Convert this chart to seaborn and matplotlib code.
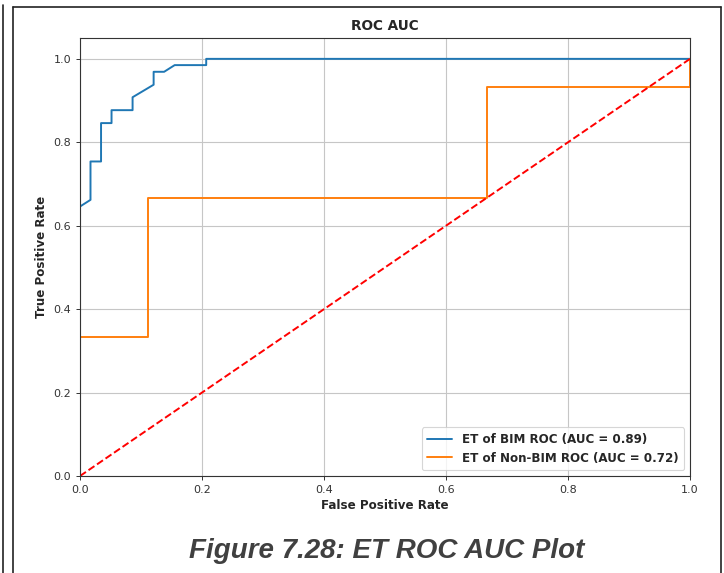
import matplotlib
matplotlib.use("Agg")
import matplotlib.pyplot as plt
from matplotlib.lines import Line2D
import numpy as np
import pandas as pd
import seaborn as sns

# ROC points (false positive rate, true positive rate)
bim_fpr = [0.0, 0.0, 0.0172, 0.0172, 0.0345, 0.0345, 0.0517, 0.0517, 0.0862, 0.0862,
           0.1207, 0.1207, 0.1379, 0.1552, 0.2069, 0.2069, 1.0]
bim_tpr = [0.0, 0.646, 0.662, 0.754, 0.754, 0.846, 0.846, 0.877, 0.877, 0.908,
           0.938, 0.969, 0.969, 0.985, 0.985, 1.0, 1.0]

nonbim_fpr = [0.0, 0.0, 0.111, 0.111, 0.667, 0.667, 1.0, 1.0]
nonbim_tpr = [0.0, 0.333, 0.333, 0.667, 0.667, 0.933, 0.933, 1.0]

series_labels = ["ET of BIM ROC (AUC = 0.89)", "ET of Non-BIM ROC (AUC = 0.72)"]
chance_line = [0.0, 1.0]

title_text = "ROC AUC"
x_label = "False Positive Rate"
y_label = "True Positive Rate"
caption_text = "Figure 7.28: ET ROC AUC Plot"

sns.set_style("white")
plt.rcParams["font.family"] = ["DejaVu Sans"]

W, H = 724, 573
fig = plt.figure(figsize=(W / 100, H / 100), dpi=100)
fig.patch.set_facecolor("white")

ax = fig.add_axes([80 / W, 1 - 476 / H, 610 / W, 438 / H])

bim_df = pd.DataFrame({"fpr": bim_fpr, "tpr": bim_tpr})
nonbim_df = pd.DataFrame({"fpr": nonbim_fpr, "tpr": nonbim_tpr})

sns.lineplot(data=bim_df, x="fpr", y="tpr", sort=False, estimator=None,
             color="#1f77b4", linewidth=1.4, label=series_labels[0], ax=ax)
sns.lineplot(data=nonbim_df, x="fpr", y="tpr", sort=False, estimator=None,
             color="#ff7f0e", linewidth=1.4, label=series_labels[1], ax=ax)
ax.plot(chance_line, chance_line, color="red", linestyle="--", linewidth=1.4)

ax.set_xlim(0.0, 1.0)
ax.set_ylim(0.0, 1.05)
ax.set_xticks(np.arange(0, 1.01, 0.2))
ax.set_yticks(np.arange(0, 1.01, 0.2))
ax.grid(True, color="#c6c6c6", linewidth=0.8)
ax.tick_params(axis="both", labelsize=8, length=3, width=0.7,
               colors="#333333", direction="out", bottom=True, left=True)
for s in ax.spines.values():
    s.set_linewidth(0.8)
    s.set_color("#333333")

ax.set_title(title_text, fontsize=9.8, fontweight="bold", pad=6)
ax.set_xlabel(x_label, fontsize=8.6, fontweight="bold", labelpad=3)
ax.set_ylabel(y_label, fontsize=8.6, fontweight="bold", labelpad=4)

leg = ax.legend(loc="lower right", prop={"size": 8.6, "weight": "bold"},
                frameon=True, fancybox=True, framealpha=0.8,
                borderpad=0.45, handlelength=2.1, borderaxespad=0.5)
leg.get_frame().set_linewidth(0.8)
leg.get_frame().set_edgecolor("#cccccc")

# Caption under the plot
fig.text(386.5 / W, 1 - 551 / H, caption_text, ha="center", va="center",
         fontsize=20, fontweight="bold", fontstyle="italic",
         family=["Liberation Sans", "DejaVu Sans"], color="#404040")

# Page frame lines
def fig_line(xs, ys, lw=1.2):
    fig.add_artist(Line2D([x / W for x in xs], [1 - y / H for y in ys],
                          color="#222222", linewidth=lw, transform=fig.transFigure))

fig_line([2.5, 2.5], [5, 573])
fig_line([13, 13], [7, 573])
fig_line([13, 720.5], [7, 7])
fig_line([720.5, 720.5], [7, 573])

fig.savefig("out.png", dpi=100, facecolor="white")
